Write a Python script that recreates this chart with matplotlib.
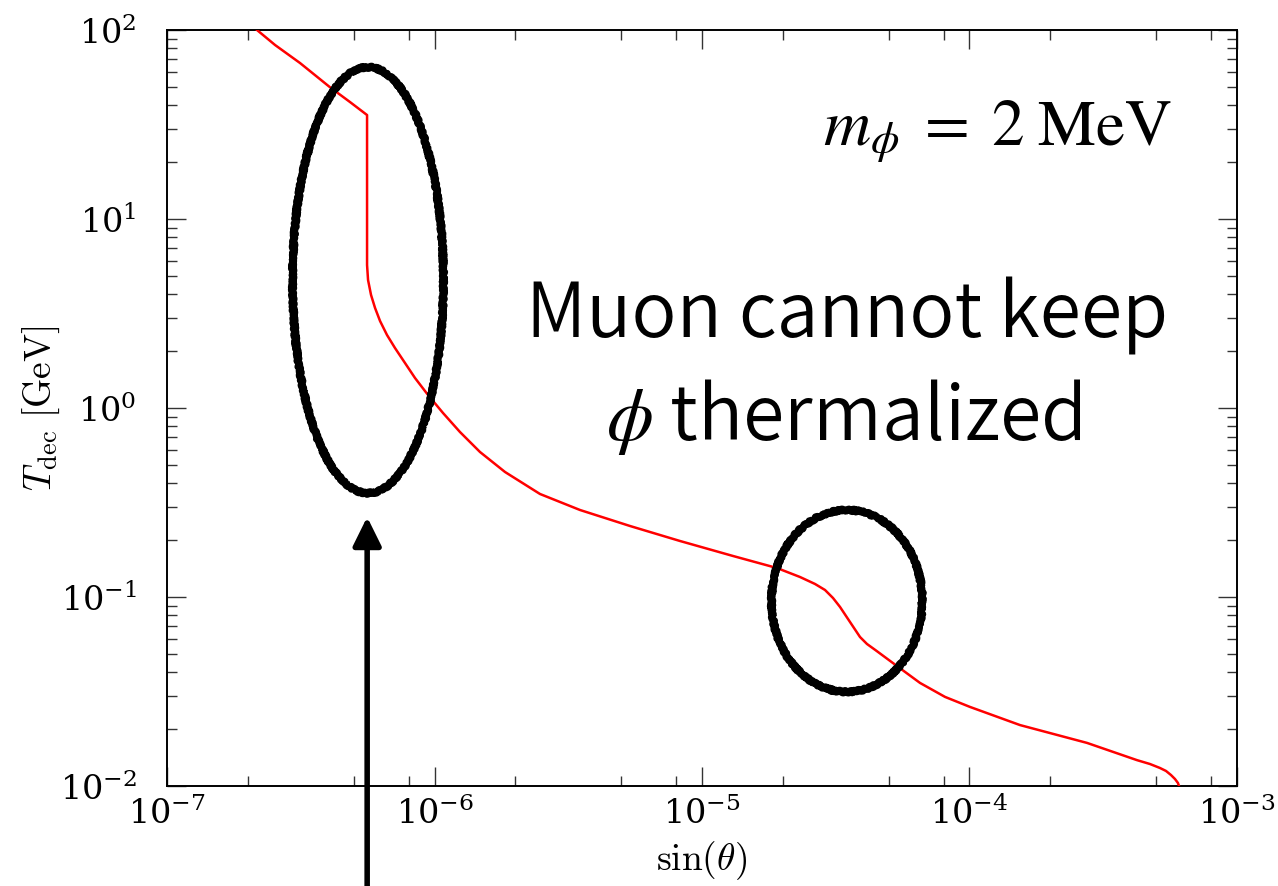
import numpy as np
import matplotlib
matplotlib.use('Agg')
import matplotlib.pyplot as plt
from matplotlib.ticker import LogLocator, NullFormatter

plt.rcParams['mathtext.fontset'] = 'cm'
plt.rcParams['font.family'] = ['DejaVu Serif']

# red curve: decoupling temperature vs mixing angle
sin_theta = [2.17e-7, 2.535e-7, 3.142e-7, 4.06e-7, 4.83e-7, 5.595e-7,
             5.595e-7, 5.643e-7, 5.790e-7, 5.994e-7, 6.257e-7, 6.644e-7,
             7.116e-7, 7.757e-7, 8.455e-7, 9.456e-7, 1.076e-6, 1.245e-6,
             1.479e-6, 1.835e-6, 2.479e-6, 3.499e-6, 5.380e-6, 8.277e-6,
             1.306e-5, 1.907e-5, 2.324e-5, 2.645e-5, 2.883e-5, 3.088e-5,
             3.280e-5, 3.514e-5, 3.699e-5, 3.897e-5, 4.138e-5, 4.472e-5,
             5.176e-5, 6.531e-5, 8.101e-5, 1.004e-4, 1.545e-4, 2.750e-4,
             4.228e-4, 4.727e-4, 5.153e-4, 5.427e-4, 5.665e-4, 5.863e-4,
             6.016e-4, 6.07e-4]
T_dec = [100, 83.3, 66.9, 49.9, 41.6, 35.5,
         5.71, 4.756, 3.963, 3.382, 2.886, 2.433,
         2.077, 1.730, 1.441, 1.172, 0.9408, 0.7464,
         0.5852, 0.4585, 0.3508, 0.2886, 0.2375, 0.1978,
         0.1648, 0.1423, 0.1276, 0.1172, 0.1089, 0.0988,
         0.0886, 0.0765, 0.0686, 0.0614, 0.0564, 0.0521,
         0.0447, 0.0351, 0.0296, 0.0262, 0.0210, 0.0169,
         0.0137, 0.01307, 0.01245, 0.01201, 0.01143, 0.01089,
         0.01037, 0.0100]

# hand-drawn circles (centre, half-axes in decades)
circle_x = [5.64e-7, 3.48e-5]
circle_y = [4.75, 0.0953]
circle_rx = [0.282, 0.282]
circle_ry = [1.127, 0.481]

arrow_x = 5.6e-7
arrow_tip = 0.265

fig = plt.figure(figsize=(12.78, 8.86), dpi=100)
ax = fig.add_axes([0.1307, 0.1129, 0.8372, 0.8532])

ax.plot(sin_theta, T_dec, color='red', lw=1.8, zorder=3)

t = np.linspace(0, 2 * np.pi, 800)
for cx, cy, rx, ry in zip(circle_x, circle_y, circle_rx, circle_ry):
    xs = 10 ** (np.log10(cx) + rx * np.cos(t))
    ys = 10 ** (np.log10(cy) + ry * np.sin(t))
    l1, = ax.plot(xs, ys, color='black', lw=5.5, zorder=4)
    l1.set_sketch_params(1.0, 5, 3)
    l2, = ax.plot(xs, ys, color='black', lw=1.2, zorder=4)
    l2.set_sketch_params(3.5, 2, 4)
    l3, = ax.plot(xs, ys, color='black', lw=1.0, zorder=4)
    l3.set_sketch_params(3.0, 3, 5)

ax.annotate('', xy=(arrow_x, arrow_tip), xycoords='data',
            xytext=(arrow_x, -0.01), textcoords=('data', 'figure fraction'),
            arrowprops=dict(arrowstyle='-|>,head_length=0.87,head_width=0.43',
                            lw=4, color='black', mutation_scale=20,
                            shrinkA=0, shrinkB=0),
            annotation_clip=False, zorder=5)

ax.set_xscale('log')
ax.set_yscale('log')
ax.set_xlim(1e-7, 1e-3)
ax.set_ylim(1e-2, 1e2)

ax.xaxis.set_minor_locator(LogLocator(base=10, subs=[2, 5, 8]))
ax.yaxis.set_minor_locator(LogLocator(base=10, subs=np.arange(2, 10)))
ax.xaxis.set_minor_formatter(NullFormatter())
ax.yaxis.set_minor_formatter(NullFormatter())

ax.tick_params(which='both', direction='in', top=True, right=True,
               width=1.0, color='#333333', labelsize=24)
ax.tick_params(which='major', length=14)
ax.tick_params(which='minor', length=7)
ax.tick_params(axis='y', which='major', pad=22)
ax.tick_params(axis='x', which='major', pad=8)
for s in ax.spines.values():
    s.set_linewidth(1.4)

ax.set_xlabel(r'$\sin(\theta)$', fontsize=27, labelpad=6)
ax.set_ylabel(r'$T_{\rm dec}\ [{\rm GeV}]$', fontsize=27, labelpad=-2)

ax.text(0.939, 0.848, r'$m_\phi \;=\; 2\;\mathrm{MeV}$', transform=ax.transAxes,
        ha='right', va='baseline', fontsize=47, math_fontfamily='stix')
ax.text(0.636, 0.593, 'Muon cannot keep', transform=ax.transAxes,
        ha='center', va='baseline', fontsize=54, fontweight=350,
        family=['Noto Sans CJK JP', 'DejaVu Sans'])
ax.text(0.632, 0.458, r'$\phi$ thermalized', transform=ax.transAxes,
        ha='center', va='baseline', fontsize=54, fontweight=350,
        family=['Noto Sans CJK JP', 'DejaVu Sans'], math_fontfamily='stix')

fig.savefig('out.png', dpi=100)
